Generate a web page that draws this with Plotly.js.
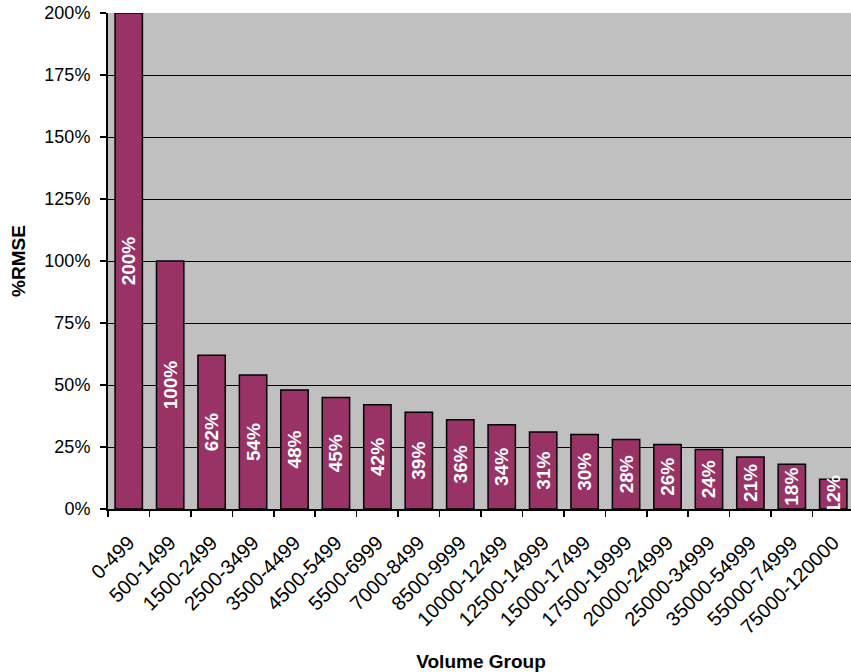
<!DOCTYPE html>
<html>
<head>
<meta charset="utf-8">
<script src="https://cdn.plot.ly/plotly-3.0.1.min.js"></script>
<style>
html, body { margin: 0; padding: 0; overflow: hidden; background: #ffffff; }
#chart { width: 862px; height: 672px; }
</style>
</head>
<body>
<div id="chart"></div>
<script>
const categories = ["0-499", "500-1499", "1500-2499", "2500-3499", "3500-4499", "4500-5499",
  "5500-6999", "7000-8499", "8500-9999", "10000-12499", "12500-14999", "15000-17499",
  "17500-19999", "20000-24999", "25000-34999", "35000-54999", "55000-74999", "75000-120000"];
const rmse = [2.00, 1.00, 0.62, 0.54, 0.48, 0.45, 0.42, 0.39, 0.36, 0.34, 0.31, 0.30,
  0.28, 0.26, 0.24, 0.21, 0.18, 0.12];
const barLabels = rmse.map(v => Math.round(v * 100) + "%");
const yTitle = "%RMSE";
const xTitle = "Volume Group";

const FONT = "Liberation Sans, Arial, sans-serif";

const trace = {
  type: "bar",
  x: categories,
  y: rmse,
  text: barLabels,
  textposition: "inside",
  insidetextanchor: "middle",
  textangle: -90,
  constraintext: "none",
  cliponaxis: false,
  textfont: { family: FONT, size: 19, color: "#ffffff", weight: "bold" },
  marker: { color: "#993366", line: { color: "#000000", width: 1.5 } },
  hoverinfo: "none"
};

const layout = {
  width: 862,
  height: 672,
  margin: { l: 108, r: 8, t: 13, b: 163 },
  paper_bgcolor: "#ffffff",
  plot_bgcolor: "#c0c0c0",
  bargap: 0.34,
  showlegend: false,
  font: { family: FONT, size: 18, color: "#000000" },
  xaxis: {
    type: "category",
    tickangle: -45,
    ticks: "outside",
    tickson: "boundaries",
    ticklen: 6,
    tickcolor: "#000000",
    tickwidth: 1.5,
    showline: true,
    linecolor: "#000000",
    linewidth: 2,
    showgrid: false,
    ticklabelstandoff: 12,
    tickfont: { family: FONT, size: 20, color: "#000000" },
    title: { text: xTitle, font: { family: FONT, size: 19, color: "#000000", weight: "bold" }, standoff: 30 }
  },
  yaxis: {
    range: [0, 2],
    dtick: 0.25,
    tick0: 0,
    tickformat: ".0%",
    ticks: "outside",
    ticklen: 6,
    tickcolor: "#000000",
    tickwidth: 1.5,
    showline: true,
    linecolor: "#000000",
    linewidth: 2,
    showgrid: true,
    gridcolor: "#000000",
    gridwidth: 1,
    zeroline: false,
    ticklabelstandoff: 6,
    tickfont: { family: FONT, size: 18, color: "#000000" },
    title: { text: yTitle, font: { family: FONT, size: 19, color: "#000000", weight: "bold" }, standoff: 14 }
  }
};

Plotly.newPlot("chart", [trace], layout, { displayModeBar: false, staticPlot: true });
</script>
</body>
</html>
